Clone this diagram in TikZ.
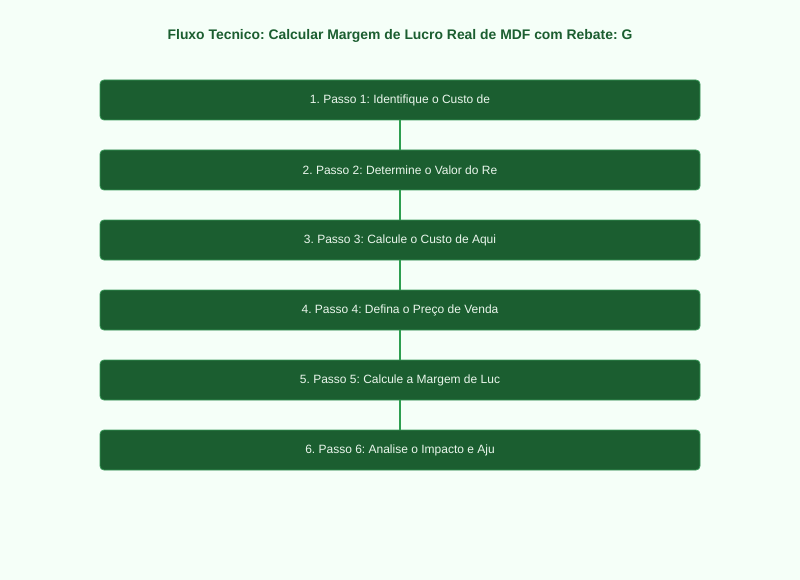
\documentclass[tikz,border=0pt]{standalone}
\usepackage{fontspec}
\setmainfont{Liberation Sans}
\frenchspacing
\definecolor{bg}{HTML}{F5FFF8}
\definecolor{boxfill}{HTML}{1B5E30}
\definecolor{boxline}{HTML}{3A9A5A}
\definecolor{conn}{HTML}{2E9E50}
\definecolor{titlec}{HTML}{1B5E30}
\definecolor{txt}{HTML}{EAF6EC}
\begin{document}
\begin{tikzpicture}[x=1pt,y=-1pt,
  stepbox/.style={draw=boxline,line width=0.8pt,fill=boxfill,rounded corners=4pt,
    minimum width=600pt,minimum height=40pt,inner sep=0pt,text=txt,
    font=\frenchspacing\fontsize{12}{14}\selectfont},
  link/.style={draw=conn,line width=1.8pt}]
\fill[bg] (0,0) rectangle (800,580);
\useasboundingbox (0,0) rectangle (800,580);
\node[text=titlec,font=\frenchspacing\fontsize{13.9}{16}\selectfont\bfseries] (title) at (400,36) {Fluxo Tecnico: Calcular Margem de Lucro Real de MDF com Rebate: G};
\node[stepbox] (s1) at (400,100) {\raisebox{-1.5pt}{1. Passo 1: Identifique o Custo de}};
\node[stepbox] (s2) at (400,170) {\raisebox{-1.5pt}{2. Passo 2: Determine o Valor do Re}};
\node[stepbox] (s3) at (400,240) {\raisebox{-1.5pt}{3. Passo 3: Calcule o Custo de Aqui}};
\node[stepbox] (s4) at (400,310) {\raisebox{-1.5pt}{4. Passo 4: Defina o Preço de Venda}};
\node[stepbox] (s5) at (400,380) {\raisebox{-1.5pt}{5. Passo 5: Calcule a Margem de Luc}};
\node[stepbox] (s6) at (400,450) {\raisebox{-1.5pt}{6. Passo 6: Analise o Impacto e Aju}};
\draw[link] (s1) -- (s2);
\draw[link] (s2) -- (s3);
\draw[link] (s3) -- (s4);
\draw[link] (s4) -- (s5);
\draw[link] (s5) -- (s6);
\end{tikzpicture}
\end{document}
